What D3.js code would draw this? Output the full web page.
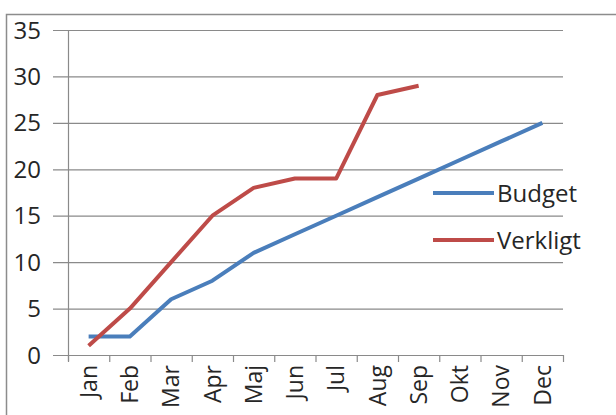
<!DOCTYPE html>
<html>
<head>
<meta charset="utf-8">
<script src="https://cdn.jsdelivr.net/npm/d3@7"></script>
<style>
	body { margin: 0; background: #fff; }
	svg text { font-family: "Open Sans", Lato, sans-serif; fill: #262626; }
</style>
</head>
<body>
<svg id="chart" width="616" height="415"></svg>
<script>
var months = ["Jan", "Feb", "Mar", "Apr", "Maj", "Jun", "Jul", "Aug", "Sep", "Okt", "Nov", "Dec"];
var budget = [2, 2, 6, 8, 11, 13, 15, 17, 19, 21, 23, 25];
var verkligt = [1, 5, 10, 15, 18, 19, 19, 28, 29];
var yTicks = [0, 5, 10, 15, 20, 25, 30, 35];

var series = [
	{ name: "Budget", values: budget, color: "#4a7ebb" },
	{ name: "Verkligt", values: verkligt, color: "#be4b48" }
];

var svg = d3.select("#chart");

// outer chart border
svg.append("rect")
	.attr("x", 6.5).attr("y", 14.5)
	.attr("width", 640).attr("height", 440)
	.attr("fill", "#fff")
	.attr("stroke", "#8c8c8c")
	.attr("stroke-width", 1.5);

var plot = { left: 68, right: 563, top: 30, bottom: 355 };

var x = d3.scaleBand()
	.domain(months)
	.range([plot.left, plot.right]);

var y = d3.scaleLinear()
	.domain([0, 35])
	.range([plot.bottom, plot.top]);

// gridlines + y ticks
svg.append("g")
	.selectAll("line")
	.data(yTicks)
	.enter().append("line")
	.attr("x1", plot.left - 15)
	.attr("x2", plot.right)
	.attr("y1", function(d) { return y(d) + 0.5; })
	.attr("y2", function(d) { return y(d) + 0.5; })
	.attr("stroke", "#8a8a8a")
	.attr("stroke-width", 1.2);

// y axis line
svg.append("line")
	.attr("x1", plot.left + 0.5).attr("x2", plot.left + 0.5)
	.attr("y1", plot.top).attr("y2", plot.bottom + 6)
	.attr("stroke", "#8a8a8a").attr("stroke-width", 1.2);

// x tick marks at category boundaries
var bounds = months.map(function(m) { return x(m); }).concat([plot.right]);
svg.append("g")
	.selectAll("line")
	.data(bounds)
	.enter().append("line")
	.attr("x1", function(d) { return d + 0.5; })
	.attr("x2", function(d) { return d + 0.5; })
	.attr("y1", plot.bottom)
	.attr("y2", plot.bottom + 7)
	.attr("stroke", "#8a8a8a").attr("stroke-width", 1.2);

// y labels
svg.append("g")
	.selectAll("text")
	.data(yTicks)
	.enter().append("text")
	.attr("x", 41)
	.attr("y", function(d) { return y(d); })
	.attr("dy", "0.36em")
	.attr("text-anchor", "end")
	.attr("font-size", 24)
	.text(function(d) { return d; });

// x labels rotated
svg.append("g")
	.selectAll("text")
	.data(months)
	.enter().append("text")
	.attr("transform", function(d) {
		return "translate(" + (x(d) + x.bandwidth() / 2) + "," + (plot.bottom + 10) + ") rotate(-90)";
	})
	.attr("dy", "0.36em")
	.attr("text-anchor", "end")
	.attr("font-size", 23)
	.text(function(d) { return d; });

var line = d3.line()
	.x(function(d, i) { return x(months[i]) + x.bandwidth() / 2; })
	.y(function(d) { return y(d); });

svg.append("g")
	.selectAll("path")
	.data(series)
	.enter().append("path")
	.attr("d", function(d) { return line(d.values); })
	.attr("fill", "none")
	.attr("stroke", function(d) { return d.color; })
	.attr("stroke-width", 4)
	.attr("stroke-linejoin", "round");

// legend
var legend = svg.append("g")
	.selectAll("g")
	.data(series)
	.enter().append("g")
	.attr("transform", function(d, i) { return "translate(433," + (193 + i * 47) + ")"; });

legend.append("line")
	.attr("x1", 0).attr("x2", 61)
	.attr("stroke", function(d) { return d.color; })
	.attr("stroke-width", 4);

legend.append("text")
	.attr("x", 64)
	.attr("dy", "0.36em")
	.attr("font-size", 24)
	.text(function(d) { return d.name; });
</script>
</body>
</html>
